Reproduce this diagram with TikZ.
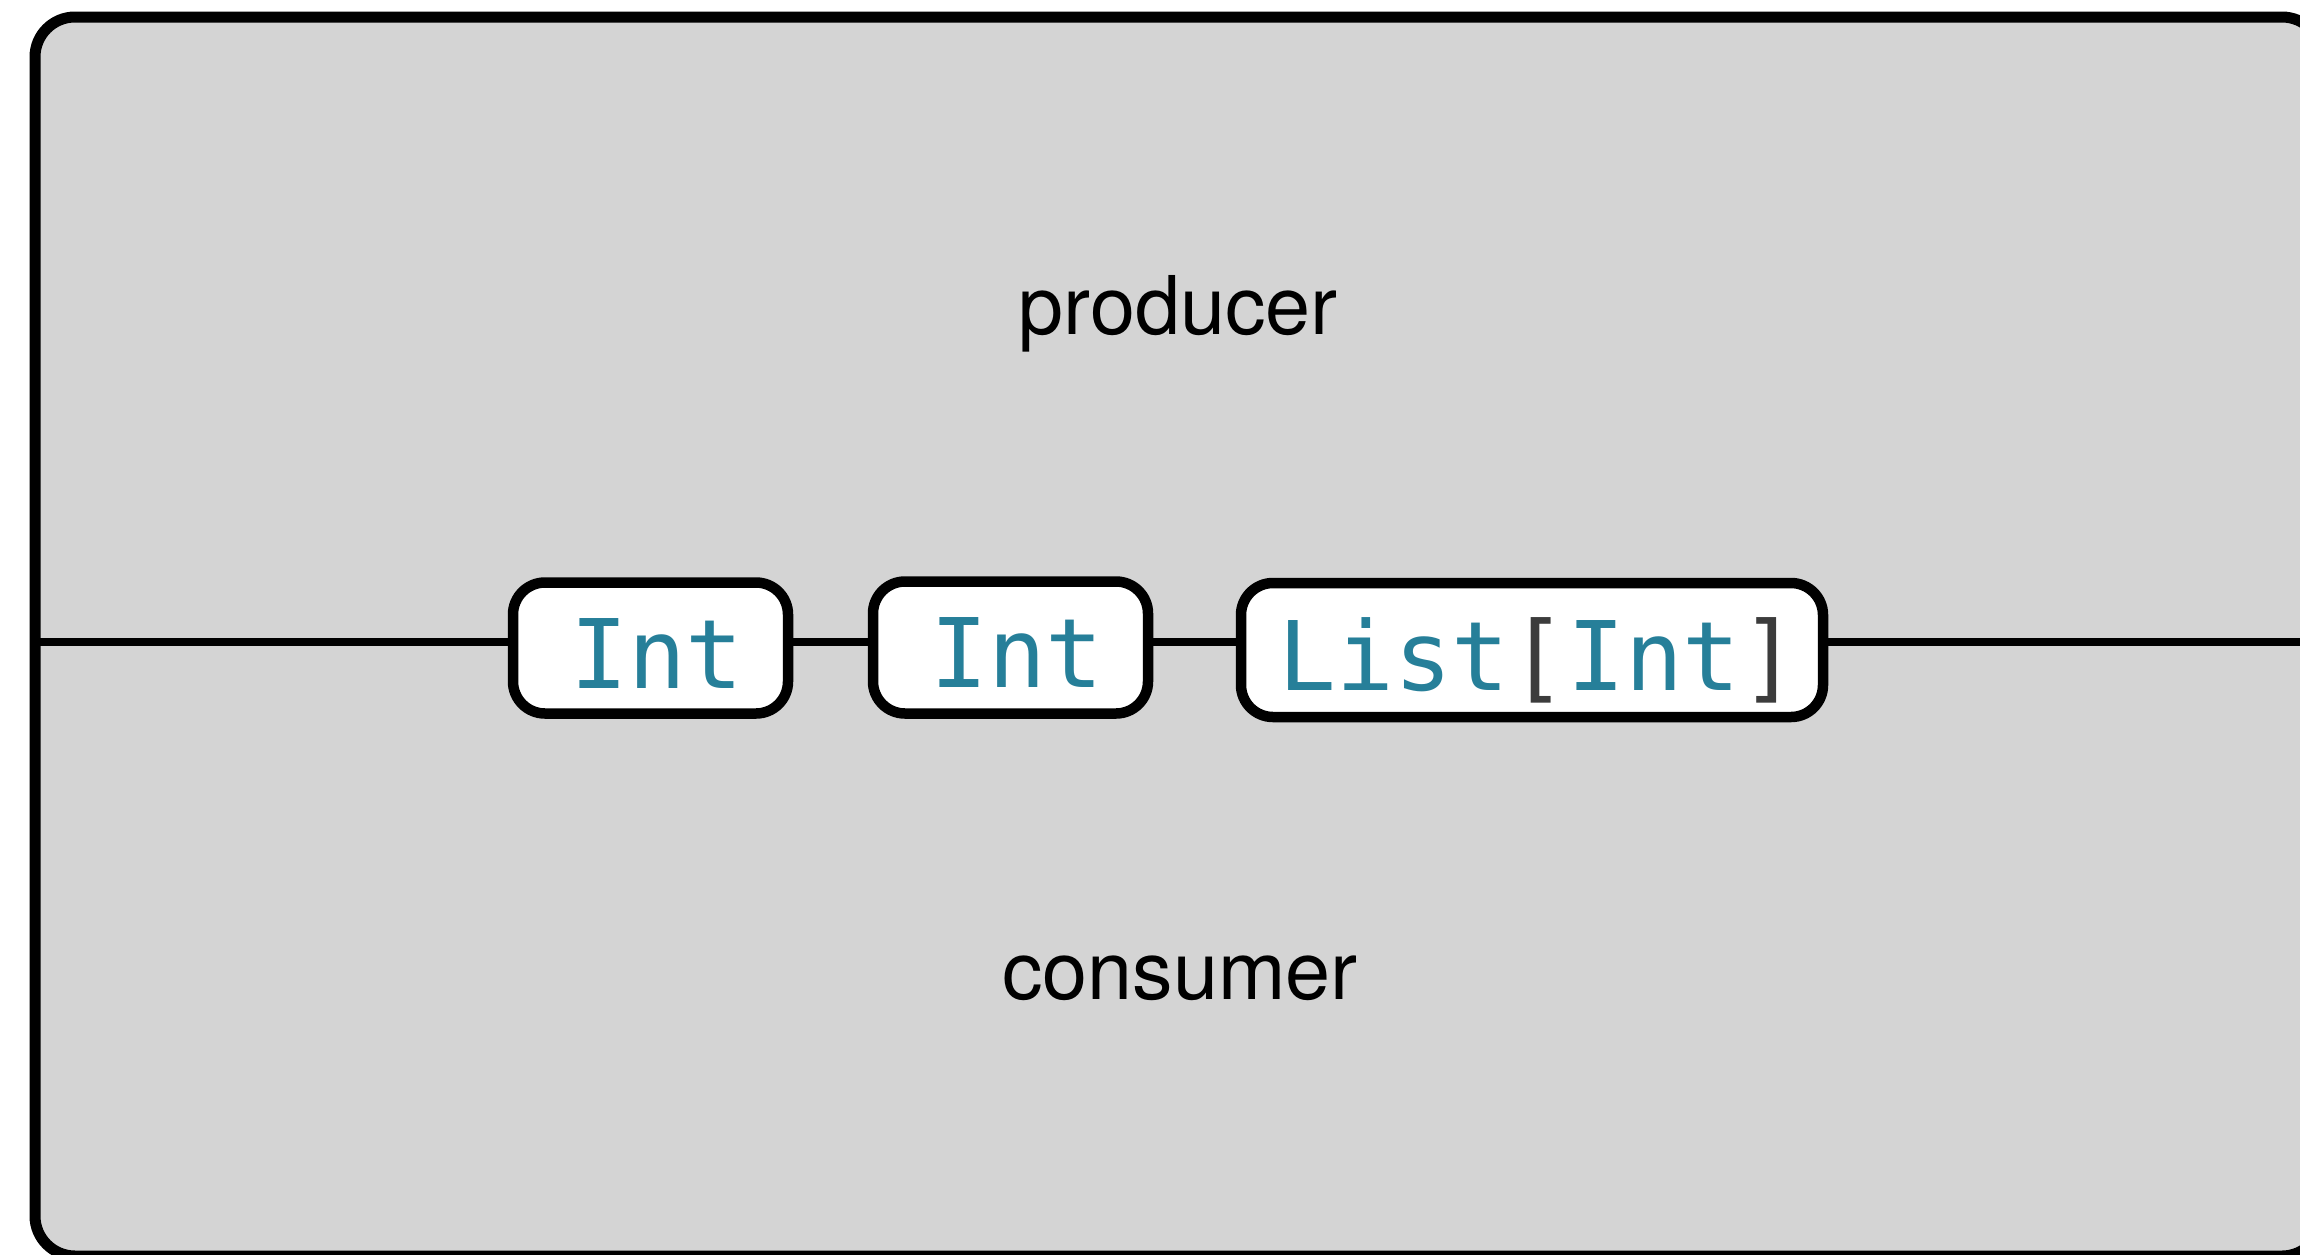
\documentclass[tikz,border=0pt]{standalone}
\usepackage{fontspec}
\setmainfont{TeX Gyre Heros}
\newfontfamily\codefont{DejaVu Sans Mono}
\definecolor{bggray}{HTML}{D4D4D4}
\definecolor{typeteal}{HTML}{267F99}
\definecolor{brackgray}{HTML}{3C3C3C}
\tikzset{
  framebox/.style={draw=black, line width=11pt, fill=bggray, rounded corners=40pt, inner sep=0pt},
  typebox/.style={draw=black, line width=10.5pt, fill=white, rounded corners=32pt, inner sep=0pt,
    font=\codefont\fontsize{96}{110}\selectfont, text=typeteal, text height=80pt, text depth=0pt,
    execute at begin node={\hspace*{13pt}}},
  wire/.style={draw=black, line width=8pt},
  label/.style={font=\fontsize{81}{95}\selectfont, text=black, anchor=base, inner sep=0pt}
}
\begin{document}
\begin{tikzpicture}[x=1pt,y=-1pt]
\useasboundingbox (0,0) rectangle (2300,1254);
\clip (0,0) rectangle (2300,1254);
\fill[white] (0,0) rectangle (2300,1254);
\node[framebox, minimum width=2287pt, minimum height=1239pt] (frame) at (1178.5,636.5) {};
\node[label] (producer) at (1178,334) {producer};
\node[label] (consumer) at (1180,999) {consumer};
\coordinate (lineL) at (35,642);
\coordinate (lineR) at (2322,642);
\node[typebox, minimum width=275pt, minimum height=131pt] (b1) at (650.5,648) {Int};
\node[typebox, minimum width=275pt, minimum height=132pt] (b2) at (1010.5,647.5) {Int};
\node[typebox, minimum width=582pt, minimum height=134pt] (b3) at (1532,650) {List\textcolor{brackgray}{[}Int\textcolor{brackgray}{]}};
\draw[wire] (lineL) -- (b1.west |- lineL);
\draw[wire] (b1.east |- lineL) -- (b2.west |- lineL);
\draw[wire] (b2.east |- lineL) -- (b3.west |- lineL);
\draw[wire] (b3.east |- lineL) -- (lineR);
\end{tikzpicture}
\end{document}
